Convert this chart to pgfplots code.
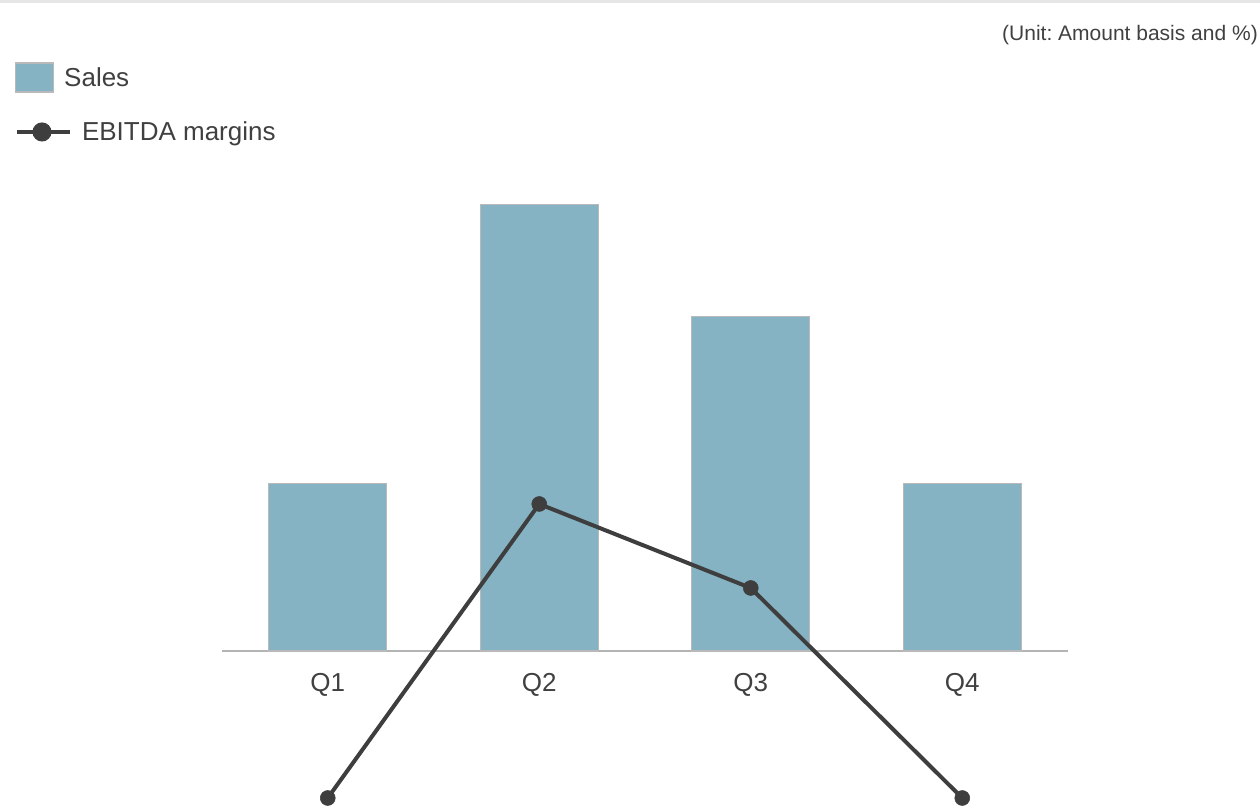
\documentclass[border=0pt]{standalone}
\usepackage{pgfplots}
\pgfplotsset{compat=1.18}
\usepackage{fontspec}
\setmainfont{Liberation Sans}
\frenchspacing

\definecolor{barfill}{RGB}{133,179,196}
\definecolor{baredge}{RGB}{185,185,185}
\definecolor{linecol}{RGB}{62,62,62}
\definecolor{txt}{RGB}{64,64,64}
\definecolor{axisgray}{RGB}{180,180,180}
\definecolor{topband}{RGB}{230,230,230}

% quarterly values
\pgfplotstableread{
q sales
0 3
1 8
2 6
3 3
}\salesdata
\pgfplotstableread{
q margin
0 -7
1 7
2 3
3 -7
}\margindata

\pgfplotsset{
  panel/.style={
    at={(222bp,0bp)}, anchor=south west,
    width=846bp, height=650bp, scale only axis,
    xmin=-0.5, xmax=3.5, clip=false,
  },
  keylegend/.style={
    legend style={
      at={(axis description cs:#1)}, anchor=west,
      draw=none, fill=none, inner sep=0pt, outer sep=0pt,
      font=\fontsize{26bp}{30bp}\selectfont, text=txt,
      column sep=10bp, nodes={inner sep=0pt},
    },
    legend cell align=left,
  },
}

\begin{document}
\begin{tikzpicture}
\useasboundingbox (0,0) rectangle (1260bp,807bp);
\fill[topband] (0,804bp) rectangle (1260bp,807bp);
\node[anchor=base east, inner sep=0pt, text=txt, font=\fontsize{21bp}{25bp}\selectfont]
  at (1258bp,766bp) {(Unit: Amount basis and \%)};

% sales bars
\begin{axis}[
  panel,
  ymin=-2.7957, ymax=8.853,
  axis x line=middle, axis y line=none,
  x axis line style={-, draw=axisgray, line width=1.8bp},
  xtick={0,1,2,3}, xticklabels={Q1,Q2,Q3,Q4},
  major tick length=0pt, ytick=\empty,
  xticklabel style={font=\fontsize{26bp}{30bp}\selectfont, text=txt,
    inner sep=0pt, anchor=north, yshift=-22bp},
  ybar, bar width=118bp,
  keylegend={-0.24468,1.1223},
]
\addplot[fill=barfill, draw=baredge, line width=1.2bp,
  legend image code/.code={\draw[fill=barfill, draw=baredge, line width=1.2bp]
    (0bp,-14.5bp) rectangle (38bp,14.5bp);}]
  table[x=q, y=sales] {\salesdata};
\addlegendentry{Sales}
\end{axis}

% EBITDA margin line
\begin{axis}[
  panel,
  ymin=-7.4286, ymax=23.5238,
  hide axis,
  keylegend={-0.24468,1.03846},
]
\addplot[linecol, line width=4bp, mark=*, mark size=7.5bp,
  mark options={solid, fill=linecol, draw=linecol, line width=0.5bp},
  legend image code/.code={\draw[linecol, line width=4bp] (0bp,0bp) -- (53bp,0bp);
    \fill[linecol] (25bp,0bp) circle (7.5bp);}]
  table[x=q, y=margin] {\margindata};
\addlegendentry{EBITDA margins}
\end{axis}
\end{tikzpicture}
\end{document}
